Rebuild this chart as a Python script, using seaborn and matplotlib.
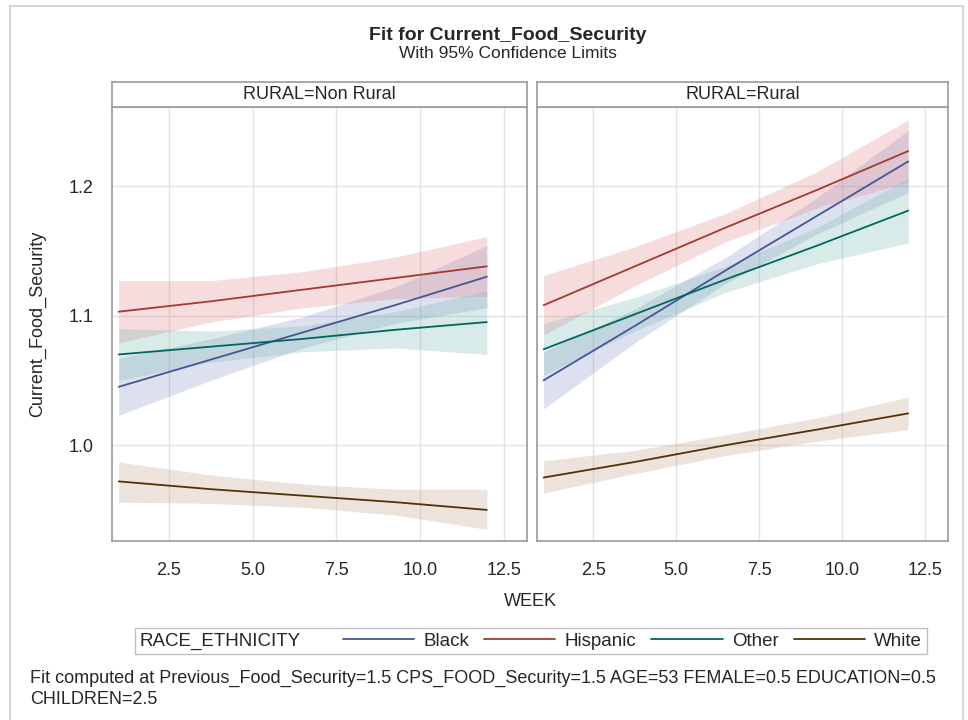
import numpy as np
import pandas as pd
import matplotlib
matplotlib.use("Agg")
import matplotlib.pyplot as plt
import seaborn as sns
from matplotlib.lines import Line2D
from matplotlib.patches import Rectangle
from matplotlib.offsetbox import HPacker

# ==========================================================
# Data
# ==========================================================
weeks = [1, 3.75, 6.5, 9.25, 12]
groups = ["Black", "Hispanic", "Other", "White"]
panels = ["Non Rural", "Rural"]

nonrural_fit = {
    "Black":    [1.045, 1.066, 1.087, 1.108, 1.130],
    "Hispanic": [1.103, 1.111, 1.120, 1.129, 1.138],
    "Other":    [1.070, 1.076, 1.082, 1.089, 1.095],
    "White":    [0.972, 0.966, 0.961, 0.956, 0.950],
}
nonrural_lower = {
    "Black":    [1.023, 1.050, 1.075, 1.094, 1.106],
    "Hispanic": [1.079, 1.095, 1.106, 1.113, 1.115],
    "Other":    [1.050, 1.064, 1.072, 1.075, 1.070],
    "White":    [0.956, 0.955, 0.952, 0.946, 0.935],
}
nonrural_upper = {
    "Black":    [1.067, 1.082, 1.099, 1.122, 1.154],
    "Hispanic": [1.127, 1.127, 1.134, 1.145, 1.161],
    "Other":    [1.090, 1.088, 1.092, 1.103, 1.119],
    "White":    [0.987, 0.977, 0.970, 0.966, 0.966],
}

rural_fit = {
    "Black":    [1.050, 1.092, 1.135, 1.177, 1.219],
    "Hispanic": [1.108, 1.138, 1.168, 1.197, 1.227],
    "Other":    [1.074, 1.101, 1.128, 1.154, 1.181],
    "White":    [0.975, 0.987, 1.000, 1.012, 1.0245],
}
rural_lower = {
    "Black":    [1.028, 1.079, 1.125, 1.163, 1.195],
    "Hispanic": [1.085, 1.123, 1.157, 1.183, 1.203],
    "Other":    [1.054, 1.088, 1.118, 1.140, 1.156],
    "White":    [0.963, 0.978, 0.992, 1.003, 1.012],
}
rural_upper = {
    "Black":    [1.072, 1.105, 1.145, 1.191, 1.243],
    "Hispanic": [1.131, 1.153, 1.179, 1.211, 1.251],
    "Other":    [1.094, 1.114, 1.138, 1.168, 1.206],
    "White":    [0.988, 0.996, 1.008, 1.021, 1.037],
}

x_ticks = [2.5, 5.0, 7.5, 10.0, 12.5]
y_ticks = [1.0, 1.1, 1.2]

# ==========================================================
# Long table
# ==========================================================
rows = []
for panel, fit, lo, hi in [("Non Rural", nonrural_fit, nonrural_lower, nonrural_upper),
                           ("Rural", rural_fit, rural_lower, rural_upper)]:
    for g in groups:
        for w, f, l, u in zip(weeks, fit[g], lo[g], hi[g]):
            rows.append({"RURAL": panel, "RACE_ETHNICITY": g, "WEEK": w,
                         "Current_Food_Security": f, "lower": l, "upper": u})
df = pd.DataFrame(rows)

# SAS HTMLBlue style colours
line_colors = {"Black": "#445694", "Hispanic": "#A23A2E",
               "Other": "#01665E", "White": "#543005"}
band_colors = {"Black": "#7E8BC4", "Hispanic": "#E0787F",
               "Other": "#6FB3AA", "White": "#B89A78"}

sns.set_style("white")
plt.rcParams["font.family"] = ["Liberation Sans", "DejaVu Sans"]

fig = plt.figure(figsize=(9.68, 7.2), dpi=100)

# outer frame
fig.patches.append(Rectangle((10 / 968, -0.01), 953 / 968, 1 - 6 / 720 + 0.01,
                             transform=fig.transFigure, fill=False,
                             edgecolor="#D0D0D0", linewidth=1.2))

axes_pos = [(112 / 968, 415 / 968), (537 / 968, 411 / 968)]
ax_bottom, ax_height = 1 - 541 / 720, 434 / 720
strip_h = 25 / 720
frame_col = "#9A9A9A"

for i, (panel, (left, width)) in enumerate(zip(panels, axes_pos)):
    ax = fig.add_axes([left, ax_bottom, width, ax_height])
    sub = df[df["RURAL"] == panel]

    # confidence bands
    for g in groups:
        gd = sub[sub["RACE_ETHNICITY"] == g]
        ax.fill_between(gd["WEEK"], gd["lower"], gd["upper"],
                        color=band_colors[g], alpha=0.26, linewidth=0, zorder=2)

    sns.lineplot(data=sub, x="WEEK", y="Current_Food_Security",
                 hue="RACE_ETHNICITY", hue_order=groups, palette=line_colors,
                 linewidth=1.3, legend=False, ax=ax, zorder=3)

    ax.set_xlim(0.8, 13.2)
    ax.set_ylim(0.926, 1.261)
    ax.set_xticks(x_ticks)
    ax.set_xticklabels([f"{t:.1f}" for t in x_ticks], fontsize=13)
    ax.set_yticks(y_ticks)
    ax.grid(True, color="#E3E3E3", linewidth=1, zorder=0)
    ax.set_axisbelow(True)
    ax.set_xlabel("")
    ax.set_ylabel("")
    for s in ax.spines.values():
        s.set_color(frame_col)
        s.set_linewidth(1.2)
    ax.tick_params(axis="x", length=9, color=frame_col, pad=6)
    if i == 0:
        ax.set_yticklabels([f"{t:.1f}" for t in y_ticks], fontsize=13)
        ax.tick_params(axis="y", length=9, color=frame_col, pad=4)
    else:
        ax.tick_params(axis="y", left=False, labelleft=False)

    # strip header
    sax = fig.add_axes([left, ax_bottom + ax_height, width, strip_h])
    sax.set_xticks([])
    sax.set_yticks([])
    for s in sax.spines.values():
        s.set_color(frame_col)
        s.set_linewidth(1.2)
    sax.text(0.5, 0.5, f"RURAL={panel}", ha="center", va="center",
             fontsize=13, transform=sax.transAxes)

# ==========================================================
# Titles and labels
# ==========================================================
fig.text(508 / 968, 1 - 35 / 720, "Fit for Current_Food_Security",
         ha="center", va="center", fontsize=14, fontweight="bold")
fig.text(508 / 968, 1 - 53 / 720, "With 95% Confidence Limits",
         ha="center", va="center", fontsize=12.5)
fig.text(530 / 968, 1 - 602 / 720, "WEEK", ha="center", va="center", fontsize=13)
fig.text(38 / 968, 1 - 324 / 720, "Current_Food_Security", ha="center",
         va="center", rotation=90, fontsize=13)

# ==========================================================
# Legend with the title on the left
# ==========================================================
handles = [Line2D([], [], color=line_colors[g], linewidth=1.3) for g in groups]
leg = fig.legend(handles, groups, title="RACE_ETHNICITY", ncol=4,
                 loc="center", bbox_to_anchor=(531 / 968, 1 - 641 / 720),
                 fontsize=13.5, title_fontsize=13.5, handlelength=3.8,
                 handletextpad=0.5, columnspacing=0.8, frameon=True,
                 fancybox=False, borderpad=0.2)
leg.get_frame().set_edgecolor("#B0B0B0")
leg.get_frame().set_linewidth(1.0)
leg._legend_box = HPacker(pad=0.25 * 13.5, sep=30, align="center",
                          children=[leg._legend_title_box, leg._legend_handle_box])
leg._legend_box.set_figure(fig)
leg._legend_box.set_offset(leg._findoffset)

# ==========================================================
# Footnote
# ==========================================================
fig.text(30 / 968, 1 - 678 / 720,
         "Fit computed at Previous_Food_Security=1.5 CPS_FOOD_Security=1.5 "
         "AGE=53 FEMALE=0.5 EDUCATION=0.5", ha="left", va="center", fontsize=13)
fig.text(30 / 968, 1 - 700 / 720, "CHILDREN=2.5", ha="left", va="center", fontsize=13)

fig.savefig("out.png", dpi=100)
